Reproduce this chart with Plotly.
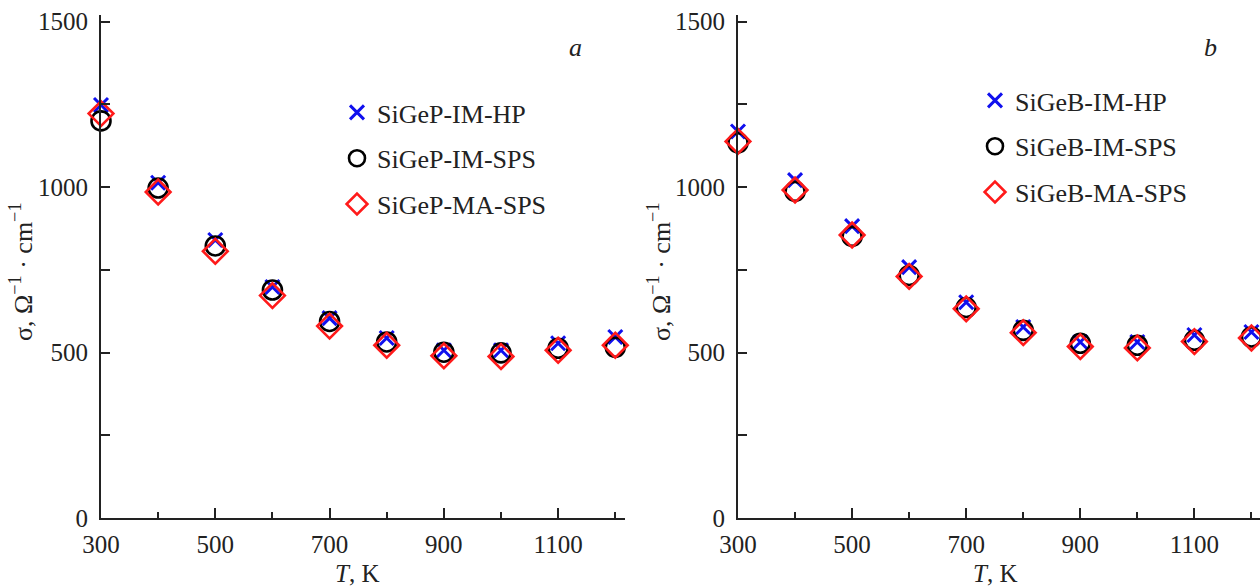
import plotly.graph_objects as go

# Temperature points, K
T = [300, 400, 500, 600, 700, 800, 900, 1000, 1100, 1200]

# Electrical conductivity, Ohm^-1 cm^-1 — n-type (P-doped) samples
sigeP_im_hp = [1248, 1013, 840, 698, 604, 544, 507, 507, 528, 547]
sigeP_im_sps = [1200, 997, 822, 689, 594, 532, 501, 499, 513, 516]
sigeP_ma_sps = [1222, 985, 806, 672, 580, 522, 490, 488, 507, 522]

# p-type (B-doped) samples
sigeB_im_hp = [1168, 1021, 882, 758, 652, 577, 532, 532, 553, 562]
sigeB_im_sps = [1134, 987, 851, 733, 636, 567, 528, 522, 537, 547]
sigeB_ma_sps = [1138, 991, 855, 730, 632, 560, 518, 514, 533, 544]

left_names = ["SiGeP-IM-HP", "SiGeP-IM-SPS", "SiGeP-MA-SPS"]
right_names = ["SiGeB-IM-HP", "SiGeB-IM-SPS", "SiGeB-MA-SPS"]

W, H = 1260, 586
FONT = "Liberation Serif, Times New Roman, serif"
AX = "#222222"

styles = [
    dict(symbol="x-thin-open", size=14, color="#1010ee",
         line=dict(color="#1010ee", width=3)),
    dict(symbol="circle-open", size=19, color="#000000",
         line=dict(color="#000000", width=2.6)),
    dict(symbol="diamond-open", size=19, color="#ff1a1a",
         line=dict(color="#ff1a1a", width=2.6)),
]

fig = go.Figure()

left_series = [sigeP_im_hp, sigeP_im_sps, sigeP_ma_sps]
right_series = [sigeB_im_hp, sigeB_im_sps, sigeB_ma_sps]

for i, (name, ys) in enumerate(zip(left_names, left_series)):
    fig.add_trace(go.Scatter(
        x=T, y=ys, mode="markers", name=name, marker=styles[i],
        xaxis="x", yaxis="y", legend="legend", legendgroup=f"l{i}",
        cliponaxis=False))

for i, (name, ys) in enumerate(zip(right_names, right_series)):
    fig.add_trace(go.Scatter(
        x=T, y=ys, mode="markers", name=name, marker=styles[i],
        xaxis="x2", yaxis="y2", legend="legend2", legendgroup=f"r{i}",
        cliponaxis=False))

# plot area geometry in pixels
top, bottom = 15, 518
lx0, lx1 = 101, 625
rx0, rx1 = 738, 1260


def xaxis(x0, x1, rng, anchor):
    return dict(
        domain=[x0 / W, x1 / W], range=rng, anchor=anchor, automargin=False,
        tick0=300, dtick=200, ticks="inside", ticklen=10, tickwidth=1.5,
        tickcolor=AX, showline=True, linecolor=AX, linewidth=2,
        showgrid=False, zeroline=False, ticklabelstandoff=3,
        minor=dict(dtick=100, tick0=300, ticks="inside", ticklen=6,
                   tickwidth=1.5, tickcolor=AX, showgrid=False),
        tickfont=dict(family=FONT, size=25, color="#222"),
    )


def yaxis(anchor):
    return dict(
        domain=[0, 1], range=[0, 1520], anchor=anchor, automargin=False,
        tick0=0, dtick=500, ticks="inside", ticklen=9, tickwidth=1.5,
        tickcolor=AX, showline=True, linecolor=AX, linewidth=2,
        showgrid=False, zeroline=False, ticklabelstandoff=6,
        minor=dict(dtick=250, ticks="inside", ticklen=9, tickwidth=1.5,
                   tickcolor=AX, showgrid=False),
        tickfont=dict(family=FONT, size=25, color="#222"),
    )


legend_common = dict(
    font=dict(family=FONT, size=26, color="#222"),
    bgcolor="rgba(0,0,0,0)", borderwidth=0,
    tracegroupgap=9, itemwidth=30,
    xanchor="left", yanchor="top",
)

plot_h = bottom - top


def ly(px):
    # paper y coordinate for a pixel row (paper spans the plot area)
    return 1 - (px - top) / plot_h


fig.update_layout(
    width=W, height=H,
    margin=dict(l=0, r=0, t=top, b=H - bottom, autoexpand=False),
    paper_bgcolor="white", plot_bgcolor="white",
    xaxis=xaxis(lx0, lx1, [300, 1217], "y"),
    yaxis=yaxis("x"),
    xaxis2=xaxis(rx0, rx1, [300, 1215], "y2"),
    yaxis2=yaxis("x2"),
    legend=dict(x=337 / W, y=ly(89), **legend_common),
    legend2=dict(x=975 / W, y=ly(77), **legend_common),
    font=dict(family=FONT, color="#222"),
)

ytitle = "σ, Ω<sup>−1</sup> · cm<sup>−1</sup>"
annotations = [
    dict(text=ytitle, x=21 / W, y=ly(272), textangle=-90, size=26),
    dict(text=ytitle, x=659 / W, y=ly(272), textangle=-90, size=26),
    dict(text="<i>T</i>, K", x=(lx0 + lx1) / 2 / W - 6 / W, y=ly(573), size=25),
    dict(text="<i>T</i>, K", x=(rx0 + rx1) / 2 / W - 4 / W, y=ly(573), size=25),
    dict(text="<i>a</i>", x=575 / W, y=ly(47), size=26),
    dict(text="<i>b</i>", x=1210 / W, y=ly(47), size=26),
]
for a in annotations:
    size = a.pop("size")
    fig.add_annotation(xref="paper", yref="paper", showarrow=False,
                       xanchor="center", yanchor="middle",
                       font=dict(family=FONT, size=size, color="#222"), **a)

fig.write_html("out.html")
